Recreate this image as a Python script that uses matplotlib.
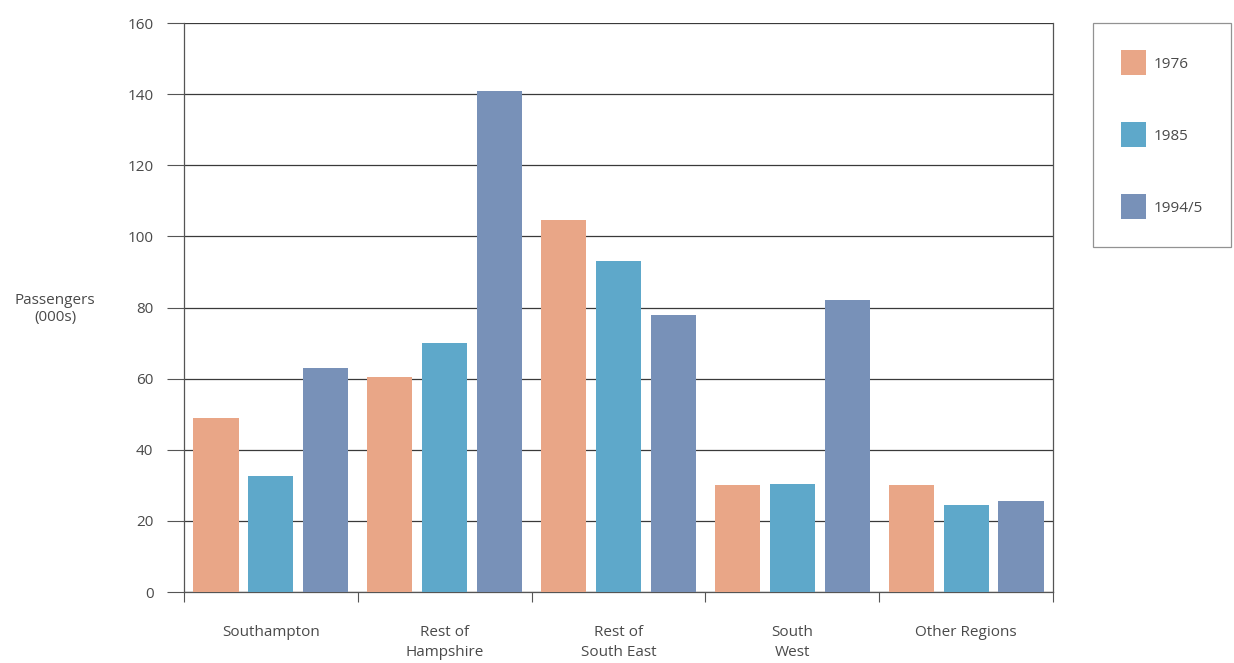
import matplotlib
matplotlib.use('Agg')
import matplotlib.pyplot as plt
import numpy as np
from matplotlib.patches import Patch

# Data (passengers, thousands)
categories = ["Southampton", "Rest of\nHampshire", "Rest of\nSouth East", "South\nWest", "Other Regions"]
series_names = ["1976", "1985", "1994/5"]
vals_1976 = [49, 60.5, 104.5, 30, 30]
vals_1985 = [32.5, 70, 93, 30.5, 24.5]
vals_1995 = [63, 141, 78, 82, 25.5]
y_ticks = [0, 20, 40, 60, 80, 100, 120, 140, 160]

COLORS = ["#E9A687", "#5EA8CA", "#7891B8"]
TEXT = "#4a4a4a"
LINE = "#555555"
FS = 11

plt.rcParams['font.family'] = ['Open Sans', 'DejaVu Sans']

fig = plt.figure(figsize=(12.34, 6.63), dpi=100)
ax = fig.add_axes([184/1234, 1 - 592/663, (1053 - 184)/1234, (592 - 23)/663])

x = np.arange(len(categories))
width = 0.26
step = 0.316
for i, (vals, c) in enumerate(zip([vals_1976, vals_1985, vals_1995], COLORS)):
    ax.bar(x + (i - 1) * step, vals, width=width, color=c, zorder=3)

ax.set_xlim(-0.5, len(categories) - 0.5)
ax.set_ylim(0, 160)
ax.set_yticks(y_ticks)
ax.yaxis.grid(True, color="#3a3a3a", linewidth=0.9, zorder=1)

# category labels centred, boundary ticks as minor
ax.set_xticks(x)
ax.set_xticklabels(categories, color=TEXT, fontsize=FS, linespacing=1.4, va='top')
ax.set_xticks(np.arange(len(categories) + 1) - 0.5, minor=True)
ax.tick_params(axis='x', which='major', length=0, pad=24)
ax.tick_params(axis='x', which='minor', length=7, width=0.8, color=LINE, direction='out')
ax.tick_params(axis='y', length=12, width=0.8, color=LINE, labelcolor=TEXT, labelsize=FS, pad=10)

for s in ['left', 'right', 'bottom', 'top']:
    ax.spines[s].set_color(LINE)
    ax.spines[s].set_linewidth(0.9)
ax.spines['top'].set_visible(False)

fig.text(55/1234, 1 - 309/663, "Passengers\n(000s)", ha='center', va='center',
         color=TEXT, fontsize=FS, linespacing=1.2)

handles = [Patch(facecolor=c, edgecolor='none', label=n) for c, n in zip(COLORS, series_names)]
leg = fig.legend(handles=handles, loc='upper left', bbox_to_anchor=(1093/1234, 1 - 23/663),
                 frameon=True, fancybox=False, edgecolor="#777777", fontsize=FS,
                 handlelength=1.7, handleheight=2.1, handletextpad=0.5,
                 labelspacing=3.1, borderpad=1.8, borderaxespad=0)
leg.get_frame().set_linewidth(0.9)
for t in leg.get_texts():
    t.set_color(TEXT)

fig.savefig("out.png", dpi=100)
